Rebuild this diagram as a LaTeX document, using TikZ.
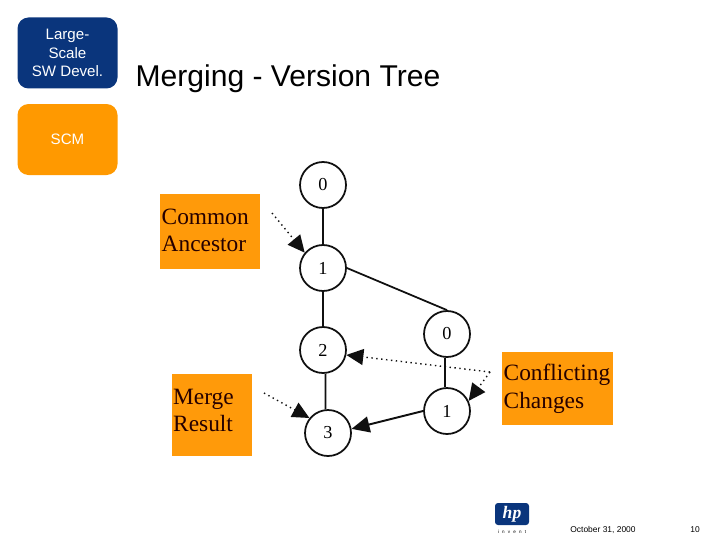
\documentclass[tikz,border=0pt]{standalone}
\usepackage{fontspec}
\setmainfont{Liberation Serif}
\newfontfamily\slidefont{Liberation Sans}
\newfontfamily\inventfont[LetterSpace=70]{Liberation Sans}
\usetikzlibrary{arrows.meta,positioning}
\definecolor{hpblue}{HTML}{0A357C}
\definecolor{tabamber}{HTML}{FF9900}
\definecolor{boxamber}{HTML}{FF9A0A}
\definecolor{ink}{HTML}{101010}
\begin{document}
\begin{tikzpicture}[tab/.style={minimum width=1cm,minimum height=0.71cm,inner sep=0pt,rounded corners=1.1mm,align=center,font=\slidefont\fontsize{4.3}{5.2}\selectfont},
notebox/.style={fill=boxamber,inner sep=0pt},
note/.style={anchor=west,inner sep=0pt,align=left,text=black!85!red,font=\fontsize{6.65}{7.75}\selectfont},
rev/.style={circle,draw=ink,fill=white,line width=0.5pt,minimum size=0.46cm,inner sep=0pt,font=\fontsize{5.2}{6}\selectfont},
edge/.style={line width=0.5pt,draw=ink},
merge/.style={-{Triangle[length=0.18cm,width=0.16cm]},line width=0.55pt,draw=ink},
hint/.style={-{Triangle[length=0.17cm,width=0.16cm]},densely dotted,line width=0.4pt,draw=ink},
foot/.style={inner sep=0pt,font=\slidefont\fontsize{2.4}{3}\selectfont}]
\useasboundingbox (0,0) rectangle (7.2,-5.4);
\node[tab,fill=hpblue,text=white] (devel) at (0.675,-0.53) {Large-\\Scale\\SW Devel.};
\node[tab,fill=tabamber,text=white] (scm) at (0.675,-1.395) {SCM};
\node[anchor=west,inner sep=0pt,font=\slidefont\fontsize{8.55}{10}\selectfont] (title) at (1.35,-0.79) {Merging - Version Tree};
\node[notebox,minimum width=1cm,minimum height=0.75cm] (ancestorbox) at (2.10,-2.31) {};
\node[note] (ancestor) at (1.61,-2.30) {Common\\Ancestor};
\node[notebox,minimum width=0.8cm,minimum height=0.82cm] (resultbox) at (2.12,-4.15) {};
\node[note] (result) at (1.725,-4.105) {Merge\\Result};
\node[notebox,minimum width=1.11cm,minimum height=0.73cm] (conflictbox) at (5.575,-3.885) {};
\node[note,font=\fontsize{6.65}{8}\selectfont] (conflict) at (5.03,-3.885) {Conflicting\\Changes};
\node[rev] (m0) at (3.23,-1.85) {0};
\node[rev] (m1) at (3.23,-2.68) {1};
\node[rev] (m2) at (3.23,-3.50) {2};
\node[rev] (m3) at (3.28,-4.33) {3};
\node[rev] (b0) at (4.47,-3.34) {0};
\node[rev] (b1) at (4.47,-4.11) {1};
\coordinate (ancestorfrom) at (2.72,-2.13);
\coordinate (resultfrom) at (2.64,-3.93);
\coordinate (conflictfrom) at (4.90,-3.72);
\draw[edge] (m0) -- (m1);\draw[edge] (m1) -- (m2);\draw[edge] (m2.-84) -- (m3.96);
\draw[edge] (m1.east) -- (b0.north);
\draw[edge] (b0.-94) -- (b1.94);
\draw[merge] (b1.west) -- (m3.10);
\draw[hint] (ancestorfrom) -- (m1.140);
\draw[hint] (resultfrom) -- (m3.141);
\draw[hint] (conflictfrom) -- (m2.-12);
\draw[hint] (conflictfrom) -- (b1.25);
\node[fill=hpblue,rounded corners=0.3mm,minimum width=0.34cm,minimum height=0.22cm,inner sep=0pt,text=white,font=\bfseries\itshape\fontsize{5}{5}\selectfont] (logo) at (5.12,-5.14) {hp};
\node[foot,font=\inventfont\fontsize{1.3}{2}\selectfont,below=0.035cm of logo] (invent) {invent};
\node[foot] (date) at (6.03,-5.30) {October 31, 2000};
\node[foot] (page) at (6.95,-5.30) {10};
\end{tikzpicture}
\end{document}
